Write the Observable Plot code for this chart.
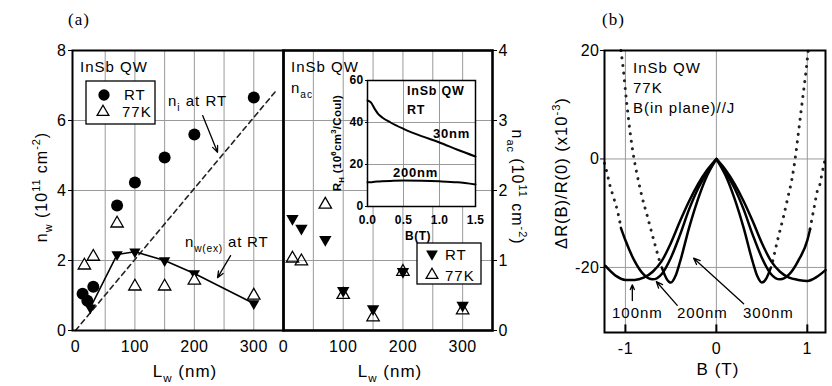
<!DOCTYPE html>
<html>
<head>
<meta charset="utf-8">
<script src="https://cdn.jsdelivr.net/npm/d3@7"></script>
<script src="https://cdn.jsdelivr.net/npm/@observablehq/plot@0.6"></script>
<style>
  html, body { margin: 0; padding: 0; background: white; }
  #chart { position: relative; width: 832px; height: 386px; overflow: hidden; background: white; }
</style>
</head>
<body>
<div id="chart"></div>
<script>
// ---------------- DATA ----------------
// Panel (a) left: n_w vs L_w
const lwRT = [12, 20, 30, 70, 100, 150, 200, 300];
const nwRT = [1.05, 0.85, 1.25, 3.57, 4.23, 4.94, 5.6, 6.66];
const lw77 = [15, 30, 70, 100, 150, 200, 300];
const nw77 = [1.86, 2.11, 3.06, 1.26, 1.26, 1.43, 1.0];
const lwEx = [25, 70, 100, 150, 200, 300];
const nwEx = [0.65, 2.17, 2.25, 2.0, 1.63, 0.77];
const lwNi = [0, 340];
const nwNi = [0, 6.9];
const gridLw = [50, 100, 150, 200, 250, 300];
const gridNw = [2, 4, 6];
const ticksLw = [0, 100, 200, 300];
const ticksNw = [0, 2, 4, 6, 8];

// Panel (a) middle: n_ac vs L_w
const lwAc = [15, 30, 70, 100, 150, 200, 300];
const nacRT = [1.6, 1.46, 1.3, 0.57, 0.31, 0.84, 0.36];
const nac77 = [1.03, 0.99, 1.8, 0.51, 0.19, 0.84, 0.29];
const gridNac = [1, 2, 3];
const ticksNac = [0, 1, 2, 3, 4];

// Inset: R_H vs B
const bInset = [0, 0.05, 0.1, 0.15, 0.2, 0.32, 0.5, 0.75, 1.0, 1.25, 1.5];
const rh30 = [50.5, 49.5, 46.5, 44, 42.5, 40, 37, 33.5, 30.5, 27, 23.8];
const rh200 = [11.5, 11.6, 11.8, 11.9, 12.0, 12.2, 12.4, 12.3, 12.0, 11.5, 10.5];
const ticksBIn = [0, 0.5, 1.0, 1.5];
const ticksRH = [0, 20, 40, 60];

// Panel (b): dR/R vs B
const b100 = [-1.22,-1.1,-1.0,-0.9,-0.8,-0.7,-0.6,-0.5,-0.4,-0.3,-0.2,-0.1,0,0.1,0.2,0.3,0.4,0.5,0.6,0.7,0.8,0.9,1.0,1.1,1.2];
const r100 = [-19.7,-21.6,-22.3,-22.3,-21.9,-20.8,-18.8,-15.5,-11.5,-7.8,-4.6,-2,0,-2,-4.6,-7.8,-11.5,-15.5,-18.8,-20.8,-21.9,-22.3,-22.5,-21.8,-20.5];
const b200 = [-1.05,-1.0,-0.9,-0.8,-0.7,-0.6,-0.5,-0.4,-0.3,-0.2,-0.1,0,0.1,0.2,0.3,0.4,0.5,0.6,0.7,0.8,0.9,1.0,1.03];
const r200 = [-12.7,-15,-18.8,-21.3,-22.2,-21.2,-18.2,-14,-9.3,-5.4,-2.4,0,-2.4,-5.4,-9.3,-14,-18.2,-21.2,-22.2,-21.3,-18.8,-15,-13];
const b300 = [-0.6,-0.55,-0.5,-0.45,-0.4,-0.3,-0.2,-0.1,0,0.1,0.2,0.3,0.4,0.45,0.5,0.55,0.6];
const r300 = [-20,-22,-22.8,-21.6,-19,-12.7,-7.3,-3,0,-3,-7.3,-12.7,-19,-21.6,-22.8,-22,-20];
// dotted continuations
const bDotInL = [-1.05,-1.03,-0.99,-0.96,-0.92,-0.87,-0.82,-0.76,-0.68,-0.61];
const rDotInL = [20,17.5,11,6.5,1.5,-3,-6.8,-10.5,-15.5,-19.7];
const bDotInR = [0.62,0.68,0.74,0.79,0.83,0.87,0.9,0.94,0.99,1.01];
const rDotInR = [-18.8,-14.5,-10.5,-6.8,-3.8,0.5,4.5,10,16.8,20];
const bDotOutL = [-1.23,-1.2,-1.17,-1.13,-1.08,-1.05];
const rDotOutL = [-0.8,-2.7,-4.9,-7.1,-10.1,-12.6];
const bDotOutR = [1.03,1.08,1.11,1.14,1.16,1.19];
const rDotOutR = [-12.9,-8.5,-5.9,-4.6,-2.8,-0.5];
const gridB = [-1, 0, 1];
const gridR = [-20, 0];
const ticksR = [-20, 0, 20];

// annotation arrows (data units)
const arrowsA = [
  {x1: 214, y1: 6.14, x2: 239, y2: 5.09},
  {x1: 261, y1: 2.14, x2: 239, y2: 1.51}
];
const arrowsB = [
  {x1: -0.924, y1: -26.1, x2: -0.924, y2: -23.2},
  {x1: -0.43, y1: -27.0, x2: -0.66, y2: -22.6},
  {x1: 0.30, y1: -26.7, x2: -0.25, y2: -18.3}
];

// ---------------- HELPERS ----------------
const W = 832, H = 386;
const SANS = "'Liberation Sans', Arial, Helvetica, sans-serif";
const SERIF = "'Liberation Serif', 'Times New Roman', serif";
const chart = document.getElementById("chart");
const zip = (xs, ys) => xs.map((x, i) => ({x, y: ys[i]}));
// split a curve at B = 0 into two halves (so the peak stays a sharp cusp)
const halves = (xs, ys) => xs.flatMap((x, i) => {
  const out = [];
  if (x <= 0) out.push({x, y: ys[i], side: "L"});
  if (x >= 0) out.push({x, y: ys[i], side: "R"});
  return out;
});
const baseStyle = {background: "none", fontFamily: SANS, fontSize: "16px", overflow: "visible", color: "black", letterSpacing: "0.5px"};
function place(svg) {
  svg.style.position = "absolute";
  svg.style.left = "0px";
  svg.style.top = "0px";
  chart.appendChild(svg);
}

// ---------------- PANEL (a) LEFT ----------------
place(Plot.plot({
  width: W, height: H,
  marginLeft: 72, marginRight: W - 283, marginTop: 50, marginBottom: H - 330,
  style: baseStyle,
  x: {domain: [-5, 350], ticks: ticksLw, tickSize: 0, tickPadding: 10, label: null, tickFormat: String},
  y: {domain: [0, 8], ticks: ticksNw, tickSize: 4, tickPadding: 2, label: null, tickFormat: String},
  marks: [
    Plot.ruleX(gridLw, {stroke: "#9a9a9a", strokeWidth: 1}),
    Plot.ruleY(gridNw, {stroke: "#9a9a9a", strokeWidth: 1}),
    Plot.line(zip(lwNi, nwNi), {x: "x", y: "y", stroke: "#222", strokeWidth: 1.6, strokeDasharray: "5,4"}),
    Plot.line(zip(lwEx, nwEx), {x: "x", y: "y", stroke: "black", strokeWidth: 1.6}),
    Plot.dot(zip(lwEx, nwEx), {x: "x", y: "y", symbol: "triangle", rotate: 180, r: 4.2, fill: "black", stroke: "none"}),
    Plot.dot(zip(lw77, nw77), {x: "x", y: "y", symbol: "triangle", r: 4.6, fill: "white", stroke: "black", strokeWidth: 1.3}),
    Plot.dot(zip(lwRT, nwRT), {x: "x", y: "y", r: 6, fill: "black", stroke: "none"}),
    Plot.arrow(arrowsA, {x1: "x1", y1: "y1", x2: "x2", y2: "y2", stroke: "black", strokeWidth: 1.3, headLength: 8, headAngle: 45}),
    Plot.frame({stroke: "black", strokeWidth: 2})
  ]
}));

// ---------------- PANEL (a) MIDDLE ----------------
place(Plot.plot({
  width: W, height: H,
  marginLeft: 283, marginRight: W - 492, marginTop: 50, marginBottom: H - 330,
  style: baseStyle,
  x: {domain: [0, 350], ticks: ticksLw, tickSize: 0, tickPadding: 10, label: null, tickFormat: String},
  y: {domain: [0, 4], ticks: ticksNac, axis: "right", tickSize: 4, tickPadding: 2, label: null, tickFormat: String},
  marks: [
    Plot.ruleX(gridLw, {stroke: "#9a9a9a", strokeWidth: 1}),
    Plot.ruleY(gridNac, {stroke: "#9a9a9a", strokeWidth: 1}),
    Plot.dot(zip(lwAc, nac77), {x: "x", y: "y", symbol: "triangle", r: 4.6, fill: "none", stroke: "black", strokeWidth: 1.3}),
    Plot.dot(zip(lwAc, nacRT), {x: "x", y: "y", symbol: "triangle", rotate: 180, r: 4.6, fill: "black", stroke: "none"}),
    Plot.frame({stroke: "black", strokeWidth: 2.6})
  ]
}));

// ---------------- INSET ----------------
place(Plot.plot({
  width: W, height: H,
  marginLeft: 367, marginRight: W - 475, marginTop: 80, marginBottom: H - 206,
  style: {...baseStyle, fontSize: "12px", fontWeight: "bold", letterSpacing: "0.3px"},
  x: {domain: [0, 1.5], ticks: ticksBIn, tickSize: 0, tickPadding: 9, label: null, tickFormat: d => d.toFixed(1)},
  y: {domain: [0, 60], ticks: ticksRH, tickSize: 2, tickPadding: 2, label: null, tickFormat: String},
  marks: [
    Plot.frame({fill: "white", stroke: "none"}),
    Plot.ruleX([0.5, 1.0], {stroke: "#9a9a9a", strokeWidth: 1}),
    Plot.ruleY([20, 40], {stroke: "#9a9a9a", strokeWidth: 1}),
    Plot.line(zip(bInset, rh30), {x: "x", y: "y", stroke: "black", strokeWidth: 2, curve: "monotone-x"}),
    Plot.line(zip(bInset, rh200), {x: "x", y: "y", stroke: "black", strokeWidth: 2, curve: "monotone-x"}),
    Plot.frame({stroke: "black", strokeWidth: 1.5})
  ]
}));

// ---------------- PANEL (b) ----------------
const dotted = {x: "x", y: "y", stroke: "#222", strokeWidth: 3, strokeDasharray: "0.1,7.5", strokeLinecap: "round", curve: "monotone-x"};
const solid = {x: "x", y: "y", z: "side", stroke: "black", strokeWidth: 2.5, curve: "monotone-x"};
place(Plot.plot({
  width: W, height: H,
  marginLeft: 604, marginRight: W - 825, marginTop: 50, marginBottom: H - 332,
  style: baseStyle,
  x: {domain: [-1.23, 1.2], ticks: gridB, tickSize: 0, tickPadding: 10, label: null, tickFormat: String},
  y: {domain: [-32, 20], ticks: ticksR, tickSize: 4, tickPadding: 1, label: null, tickFormat: String},
  marks: [
    Plot.ruleX(gridB, {stroke: "#9a9a9a", strokeWidth: 1}),
    Plot.ruleY(gridR, {stroke: "#9a9a9a", strokeWidth: 1}),
    Plot.ruleX(gridB, {y1: -32, y2: -30.6, stroke: "black", strokeWidth: 2}),
    Plot.line(zip(bDotInL, rDotInL), dotted),
    Plot.line(zip(bDotInR, rDotInR), dotted),
    Plot.line(zip(bDotOutL, rDotOutL), dotted),
    Plot.line(zip(bDotOutR, rDotOutR), dotted),
    Plot.line(halves(b100, r100), solid),
    Plot.line(halves(b200, r200), solid),
    Plot.line(halves(b300, r300), solid),
    Plot.arrow(arrowsB, {x1: "x1", y1: "y1", x2: "x2", y2: "y2", stroke: "black", strokeWidth: 1.3, headLength: 8, headAngle: 45}),
    Plot.frame({stroke: "black", strokeWidth: 2})
  ]
}));

// ---------------- TEXT OVERLAY ----------------
const ov = d3.select(chart).append("svg")
  .attr("width", W).attr("height", H)
  .style("position", "absolute").style("left", "0px").style("top", "0px")
  .style("overflow", "visible").style("pointer-events", "none");

function rich(parts, x, y, o = {}) {
  const size = o.size ?? 15;
  const t = ov.append("text")
    .attr("transform", `translate(${x},${y}) rotate(${o.rotate ?? 0})`)
    .attr("text-anchor", o.anchor ?? "start")
    .attr("font-family", o.family ?? SANS)
    .attr("font-size", size)
    .attr("font-weight", o.weight ?? "normal")
    .attr("letter-spacing", o.ls ?? 1)
    .attr("fill", "black")
    .style("white-space", "pre");
  let shift = 0;
  for (const p of parts) {
    const [s, mode] = typeof p === "string" ? [p, ""] : p;
    const target = mode === "sub" ? size * 0.3 : mode === "sup" ? -size * 0.42 : 0;
    t.append("tspan").attr("dy", target - shift).attr("font-size", mode ? size * 0.68 : size).text(s);
    shift = target;
  }
}
function sym(type, x, y, size, filled, rot = 0) {
  ov.append("path")
    .attr("transform", `translate(${x},${y}) rotate(${rot})`)
    .attr("d", d3.symbol(type, size)())
    .attr("fill", filled ? "black" : "white")
    .attr("stroke", filled ? "none" : "black")
    .attr("stroke-width", 1.3);
}

// panel labels
rich(["(a)"], 68, 25, {family: SERIF, size: 17});
rich(["(b)"], 602, 25, {family: SERIF, size: 17});

// left panel
rich(["InSb QW"], 80, 72);
ov.append("rect").attr("x", 86).attr("y", 81).attr("width", 69).attr("height", 43)
  .attr("fill", "white").attr("stroke", "black").attr("stroke-width", 1.3);
sym(d3.symbolCircle, 104, 95, 100, true);
rich(["RT"], 124, 100);
sym(d3.symbolTriangle, 103, 112, 60, false);
rich(["77K"], 122, 117);
rich(["n", ["i", "sub"], " at RT"], 168, 106);
rich(["n", ["w(ex)", "sub"], " at RT"], 185, 247, {ls: 0.8});
rich(["n", ["w", "sub"], " (10", ["11", "sup"], " cm", ["-2", "sup"], ")"], 47, 187, {anchor: "middle", rotate: -90, size: 16});
rich(["L", ["w", "sub"], " (nm)"], 185, 377, {anchor: "middle", size: 17});

// middle panel
rich(["InSb QW"], 291, 72);
rich(["n", ["ac", "sub"]], 291, 93);
ov.append("rect").attr("x", 417).attr("y", 243).attr("width", 64).attr("height", 41)
  .attr("fill", "white").attr("stroke", "black").attr("stroke-width", 1.3);
sym(d3.symbolTriangle, 432, 254, 60, true, 180);
rich(["RT"], 445, 260);
sym(d3.symbolTriangle, 432, 275, 60, false);
rich(["77K"], 445, 281);
rich(["n", ["ac", "sub"], " (10", ["11", "sup"], " cm", ["-2", "sup"], ")"], 512, 187, {anchor: "middle", rotate: 90, size: 16});
rich(["L", ["w", "sub"], " (nm)"], 390, 377, {anchor: "middle", size: 17});

// inset
rich(["InSb QW"], 407, 95, {size: 12.5, weight: "bold", ls: 0.8});
rich(["RT"], 407, 114, {size: 12.5, weight: "bold", ls: 0.8});
rich(["30nm"], 433, 138, {size: 13, weight: "bold", ls: 0.8});
rich(["200nm"], 393, 177, {size: 13, weight: "bold", ls: 0.8});
rich(["R", ["H", "sub"], " (10", ["6", "sup"], "cm", ["3", "sup"], "/Coul)"], 341, 143, {anchor: "middle", rotate: -90, size: 11.5, weight: "bold", ls: 0.3});
rich(["B(T)"], 418, 240, {anchor: "middle", size: 12, weight: "bold", ls: 0.5});

// panel (b)
rich(["InSb QW"], 633, 73);
rich(["77K"], 633, 93);
rich(["B(in plane)//J"], 633, 113);
rich(["100nm"], 612, 318);
rich(["200nm"], 677, 318);
rich(["300nm"], 743, 318);
rich(["B (T)"], 718, 375, {anchor: "middle", size: 17});
rich(["\u0394R(B)/R(0) (x10", ["-3", "sup"], ")"], 567, 173, {anchor: "middle", rotate: -90, size: 16.5});
</script>
</body>
</html>
